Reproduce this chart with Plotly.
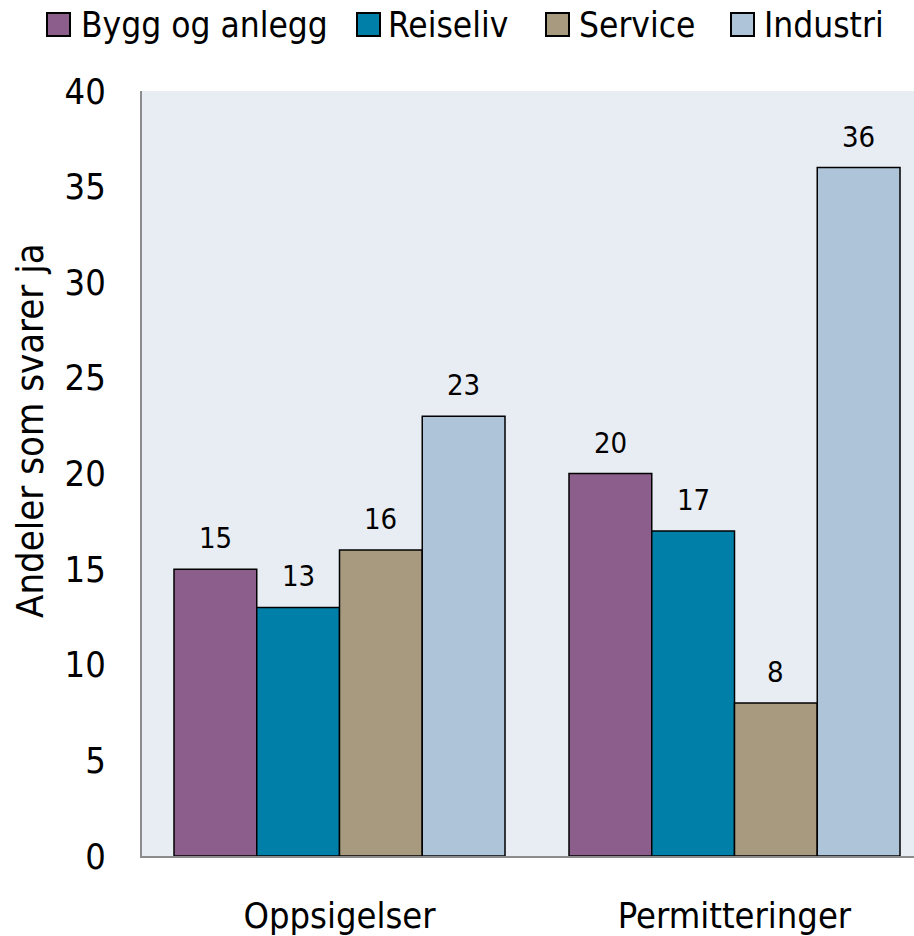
import plotly.graph_objects as go

categories = ["Oppsigelser", "Permitteringer"]
series_names = ["Bygg og anlegg", "Reiseliv", "Service", "Industri"]
values = {
    "Bygg og anlegg": [15, 20],
    "Reiseliv": [13, 17],
    "Service": [16, 8],
    "Industri": [23, 36],
}
colors = {
    "Bygg og anlegg": "#8B5E8B",
    "Reiseliv": "#0080A8",
    "Service": "#A89A7E",
    "Industri": "#AEC4D8",
}
y_ticks = [0, 5, 10, 15, 20, 25, 30, 35, 40]
y_title = "Andeler som svarer ja"

FONT = "DejaVu Sans Condensed"
W, H = 914, 936
ML, MR, MT, MB = 142, 0, 91, 80
PW, PH = W - ML - MR, H - MT - MB
BARGAP = 0.162
UNIT_PX = 395
X_RANGE = [-0.5, -0.5 + PW / UNIT_PX]


def px_x(px):
    return (px - ML) / PW


def px_y(py):
    return (H - MB - py) / PH


fig = go.Figure()
for name in series_names:
    fig.add_trace(go.Bar(
        name=name,
        x=categories,
        y=values[name],
        marker=dict(color=colors[name], line=dict(color="black", width=1.5)),
        showlegend=False,
        hoverinfo="skip",
    ))

# value labels above bars
bar_px = UNIT_PX * (1 - BARGAP) / len(series_names)
for i, name in enumerate(series_names):
    for cat, v in zip(categories, values[name]):
        fig.add_annotation(
            x=cat, y=v, xref="x", yref="y",
            text=str(v), showarrow=False,
            xshift=(i - (len(series_names) - 1) / 2) * bar_px,
            yshift=12, yanchor="bottom",
            font=dict(family=FONT, size=29, color="black"),
        )

# legend (boxes + labels)
legend_box_left = [47, 357, 546, 731]
legend_text_left = [79, 386, 577, 762]
box = 23
ly = 24.5
for name, bx, tx in zip(series_names, legend_box_left, legend_text_left):
    fig.add_shape(
        type="rect", xref="paper", yref="paper",
        x0=px_x(bx), x1=px_x(bx + box), y0=px_y(ly - box / 2), y1=px_y(ly + box / 2),
        fillcolor=colors[name], line=dict(color="black", width=2),
    )
    fig.add_annotation(
        x=px_x(tx), y=px_y(ly), xref="paper", yref="paper",
        text=name, showarrow=False, xanchor="left", yanchor="middle",
        font=dict(family=FONT, size=35, color="black"),
    )

fig.update_layout(
    template="none",
    width=W, height=H,
    barmode="group",
    bargap=BARGAP,
    bargroupgap=0,
    plot_bgcolor="#E8ECF3",
    paper_bgcolor="white",
    margin=dict(l=ML, r=MR, t=MT, b=MB, autoexpand=False),
    font=dict(family=FONT, color="black"),
    showlegend=False,
)
fig.update_xaxes(
    range=X_RANGE, automargin=False,
    showline=True, linecolor="#8C8C8C", linewidth=2,
    showgrid=False, zeroline=False,
    tickfont=dict(family=FONT, size=36),
    ticks="", ticklabelstandoff=27,
)
fig.update_yaxes(
    range=[0, 40], tickvals=y_ticks, automargin=False,
    showline=True, linecolor="#8C8C8C", linewidth=2,
    showgrid=False, zeroline=False,
    tickfont=dict(family=FONT, size=36),
    ticks="", ticklabelstandoff=27,
)
fig.add_annotation(
    text=y_title, textangle=-90,
    xref="paper", yref="paper", x=px_x(30), y=px_y(431),
    xanchor="center", yanchor="middle", showarrow=False,
    font=dict(family=FONT, size=38, color="black"),
)
fig.write_html(
    "out.html",
    config={"displayModeBar": False},
    post_script="document.body.style.margin='0';document.body.style.overflow='hidden';",
)
